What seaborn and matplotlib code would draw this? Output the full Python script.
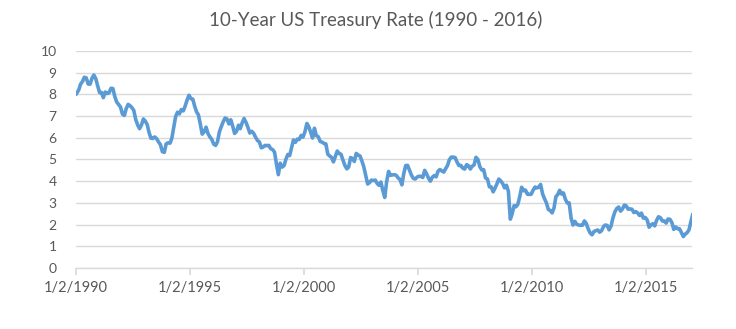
import matplotlib
matplotlib.use("Agg")
import matplotlib.pyplot as plt
import seaborn as sns
import pandas as pd
import numpy as np

# Monthly 10-year US Treasury rate (%), 1990-2016 (read from chart / approx.)
y1990 = [8.21, 8.47, 8.59, 8.79, 8.76, 8.48, 8.47, 8.75, 8.89, 8.72, 8.39, 8.08]
y1991 = [8.09, 7.85, 8.11, 8.04, 8.07, 8.28, 8.27, 7.90, 7.65, 7.53, 7.42, 7.09]
y1992 = [7.03, 7.34, 7.54, 7.48, 7.39, 7.26, 6.84, 6.59, 6.42, 6.59, 6.87, 6.77]
y1993 = [6.60, 6.26, 5.98, 5.97, 6.04, 5.96, 5.81, 5.68, 5.36, 5.33, 5.72, 5.77]
y1994 = [5.75, 5.97, 6.48, 6.97, 7.18, 7.10, 7.30, 7.24, 7.46, 7.74, 7.96, 7.81]
y1995 = [7.78, 7.47, 7.20, 7.06, 6.63, 6.17, 6.28, 6.49, 6.20, 6.04, 5.93, 5.71]
y1996 = [5.65, 5.81, 6.27, 6.51, 6.74, 6.91, 6.87, 6.64, 6.83, 6.53, 6.20, 6.30]
y1997 = [6.58, 6.42, 6.69, 6.89, 6.71, 6.49, 6.22, 6.30, 6.21, 6.03, 5.88, 5.81]
y1998 = [5.54, 5.57, 5.65, 5.64, 5.65, 5.50, 5.46, 5.34, 4.81, 4.30, 4.83, 4.65]
y1999 = [4.72, 5.00, 5.23, 5.18, 5.54, 5.90, 5.79, 5.94, 5.92, 6.11, 6.03, 6.28]
y2000 = [6.66, 6.52, 6.26, 5.99, 6.44, 6.10, 6.05, 5.83, 5.80, 5.74, 5.72, 5.24]
y2001 = [5.16, 5.10, 4.89, 5.14, 5.39, 5.28, 5.24, 4.97, 4.73, 4.57, 4.65, 5.09]
y2002 = [5.04, 4.91, 5.28, 5.21, 5.16, 4.93, 4.65, 4.26, 3.87, 3.94, 4.05, 4.03]
y2003 = [4.05, 3.90, 3.81, 3.96, 3.57, 3.25, 3.98, 4.45, 4.27, 4.29, 4.30, 4.27]
y2004 = [4.15, 4.08, 3.83, 4.35, 4.72, 4.73, 4.50, 4.28, 4.13, 4.10, 4.19, 4.23]
y2005 = [4.22, 4.17, 4.50, 4.34, 4.14, 4.00, 4.18, 4.26, 4.20, 4.46, 4.54, 4.47]
y2006 = [4.42, 4.57, 4.72, 4.99, 5.11, 5.11, 5.09, 4.88, 4.72, 4.73, 4.60, 4.56]
y2007 = [4.76, 4.72, 4.56, 4.69, 4.75, 5.10, 5.00, 4.67, 4.52, 4.53, 4.15, 4.10]
y2008 = [3.74, 3.74, 3.51, 3.68, 3.88, 4.10, 4.01, 3.89, 3.69, 3.81, 3.53, 2.25]
y2009 = [2.52, 2.87, 2.82, 2.93, 3.29, 3.72, 3.56, 3.59, 3.40, 3.39, 3.40, 3.59]
y2010 = [3.73, 3.69, 3.73, 3.85, 3.42, 3.20, 3.01, 2.70, 2.65, 2.54, 2.76, 3.29]
y2011 = [3.39, 3.58, 3.41, 3.46, 3.17, 3.00, 3.00, 2.30, 1.98, 2.15, 2.01, 1.98]
y2012 = [1.97, 1.97, 2.17, 2.05, 1.80, 1.62, 1.53, 1.68, 1.72, 1.75, 1.65, 1.72]
y2013 = [1.91, 1.98, 1.96, 1.76, 1.93, 2.30, 2.58, 2.74, 2.81, 2.62, 2.72, 2.90]
y2014 = [2.86, 2.71, 2.72, 2.71, 2.56, 2.60, 2.54, 2.42, 2.53, 2.30, 2.33, 2.21]
y2015 = [1.88, 1.98, 2.04, 1.94, 2.20, 2.36, 2.32, 2.17, 2.17, 2.07, 2.26, 2.24]
y2016 = [2.09, 1.78, 1.89, 1.81, 1.81, 1.64, 1.45, 1.56, 1.63, 1.76, 2.14, 2.49]

rates = (y1990 + y1991 + y1992 + y1993 + y1994 + y1995 + y1996 + y1997 + y1998
         + y1999 + y2000 + y2001 + y2002 + y2003 + y2004 + y2005 + y2006 + y2007
         + y2008 + y2009 + y2010 + y2011 + y2012 + y2013 + y2014 + y2015 + y2016)

tick_dates = ["1990-01-02", "1995-01-02", "2000-01-02", "2005-01-02", "2010-01-02", "2015-01-02"]
tick_labels = ["1/2/1990", "1/2/1995", "1/2/2000", "1/2/2005", "1/2/2010", "1/2/2015"]
title = "10-Year US Treasury Rate (1990 - 2016)"

dates = pd.date_range("1990-01-15", periods=len(rates), freq="MS") + pd.Timedelta(days=14)
dates = dates.insert(0, pd.Timestamp("1990-01-02"))
vals = [8.0] + rates
df = pd.DataFrame({"date": dates, "rate": vals})

sns.set_theme(style="white")
plt.rcParams["font.family"] = ["Lato", "DejaVu Sans"]

fig = plt.figure(figsize=(7.36, 3.29), dpi=100)
ax = fig.add_axes([0.1033, 0.1854, 0.8367, 0.6596])

sns.lineplot(data=df, x="date", y="rate", ax=ax, color="#5B9BD5", linewidth=2.6)

ax.set_ylim(0, 10)
ax.set_yticks(range(0, 11))
ax.set_xlim(pd.Timestamp("1990-01-02"), pd.Timestamp("2016-12-30"))
ax.set_xticks(pd.to_datetime(tick_dates))
ax.set_xticklabels(tick_labels)
ax.grid(axis="y", color="#D9D9D9", linewidth=1)
ax.set_axisbelow(True)
for s in ["top", "right", "left"]:
    ax.spines[s].set_visible(False)
ax.spines["bottom"].set_color("#D9D9D9")
ax.spines["bottom"].set_linewidth(1)
ax.tick_params(axis="x", bottom=True, length=5, color="#D9D9D9", colors="#595959",
               labelsize=10.5, pad=4)
ax.tick_params(axis="y", left=False, colors="#595959", labelsize=10, pad=8)
ax.set_xlabel("")
ax.set_ylabel("")
fig.text(0.51, 0.94, title, ha="center", va="center", fontsize=13.5, color="#595959")

fig.savefig("out.png", dpi=100, facecolor="white")
